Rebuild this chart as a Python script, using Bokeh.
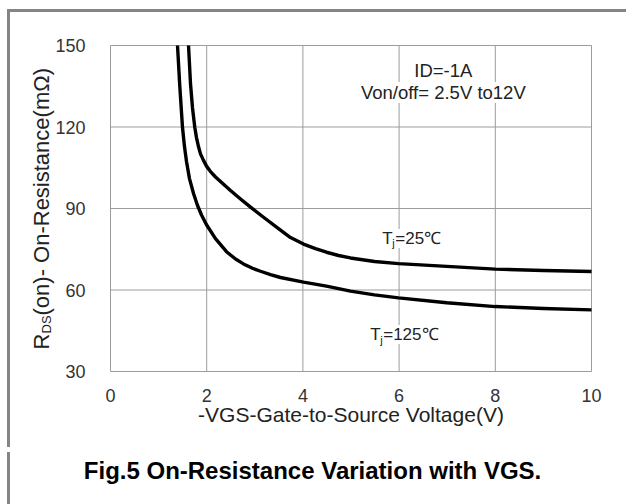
import math
from bokeh.plotting import figure
from bokeh.models import Label, FixedTicker, Range1d
from bokeh.embed import file_html
from bokeh.resources import INLINE

# ---- data ----
vgs_25 = [1.622, 1.663, 1.705, 1.753, 1.788, 1.830, 1.871, 1.933, 1.996, 2.079, 2.183,
          2.287, 2.495, 2.703, 2.911, 3.202, 3.493, 3.742, 4.012, 4.262, 4.49, 4.74,
          4.99, 5.489, 5.988, 6.99, 8.0, 9.0, 10.0]
rds_25 = [150, 136.0, 127.0, 119.8, 116.1, 112.7, 110.1, 107.7, 105.6, 103.6, 101.6,
          99.9, 96.6, 93.5, 90.5, 86.5, 82.6, 79.3, 76.9, 75.2, 73.9, 72.7,
          71.8, 70.5, 69.7, 68.7, 67.7, 67.2, 66.8]

vgs_125 = [1.393, 1.441, 1.497, 1.538, 1.580, 1.642, 1.726, 1.809, 1.892, 1.996, 2.183,
           2.412, 2.599, 2.765, 2.952, 3.119, 3.326, 3.534, 4.012, 4.49, 4.99, 5.489,
           5.988, 6.99, 8.0, 9.0, 10.0]
rds_125 = [150, 134.9, 119.8, 112.8, 107.3, 101.0, 95.5, 91.1, 87.6, 84.0, 78.9,
           74.1, 71.4, 69.6, 68.0, 66.9, 65.7, 64.6, 62.9, 61.4, 59.6, 58.2,
           57.1, 55.3, 53.9, 53.2, 52.7]

x_ticks = [0, 2, 4, 6, 8, 10]
y_ticks = [30, 60, 90, 120, 150]

FONT = "Liberation Sans"
W, H = 626, 504
# pixel placement of the plot box (x=0..10, y=30..150)
PX_L, PX_R, PX_T, PX_B = 110, 591, 45, 371
sx = (PX_R - PX_L) / (x_ticks[-1] - x_ticks[0])
sy = (PX_B - PX_T) / (y_ticks[-1] - y_ticks[0])
x_rng = Range1d(x_ticks[0] - PX_L / sx, x_ticks[-1] + (W - PX_R) / sx)
y_rng = Range1d(y_ticks[0] - (H - PX_B) / sy, y_ticks[-1] + PX_T / sy)

p = figure(width=W, height=H, x_range=x_rng, y_range=y_rng,
           output_backend="svg", toolbar_location=None, min_border=0)
p.border_fill_alpha = 0
p.background_fill_alpha = 0
p.outline_line_color = None
p.styles = {
    "background-image": "linear-gradient(#858585,#858585), linear-gradient(#858585,#858585), linear-gradient(#858585,#858585)",
    "background-size": "calc(100% - 7px) 3px, 3px 438px, 3px 60px",
    "background-position": "7px 9px, 7px 9px, 7px 452px",
    "background-repeat": "no-repeat",
}

p.xaxis.fixed_location = y_ticks[0]
p.yaxis.fixed_location = x_ticks[0]
for ax in (p.xaxis[0], p.yaxis[0]):
    ax.axis_line_color = None
    ax.major_tick_line_color = None
    ax.minor_tick_line_color = None
    ax.major_label_text_font = FONT
    ax.major_label_text_font_size = "18px"
    ax.major_label_text_color = "#333333"
p.xaxis.ticker = FixedTicker(ticks=x_ticks)
p.yaxis.ticker = FixedTicker(ticks=y_ticks)
p.xaxis.major_label_standoff = 11
p.yaxis.major_label_standoff = 19
p.grid.visible = False

# grid / plot box
GRID = "#9c9c9c"
p.segment(x0=x_ticks, y0=[y_ticks[0]] * len(x_ticks), x1=x_ticks, y1=[y_ticks[-1]] * len(x_ticks),
          line_color=GRID, line_width=1)
p.segment(x0=[x_ticks[0]] * len(y_ticks), y0=y_ticks, x1=[x_ticks[-1]] * len(y_ticks), y1=y_ticks,
          line_color=GRID, line_width=1)

p.line(vgs_25, rds_25, line_color="black", line_width=3.4, line_join="round")
p.line(vgs_125, rds_125, line_color="black", line_width=3.4, line_join="round")


def lab(text, x, y, size, **kw):
    params = dict(x=x, y=y, text=text, text_font=FONT, text_font_size=size,
                  text_color=kw.pop("color", "#222222"))
    params.update(kw)
    l = Label(**params)
    p.add_layout(l)
    return l


# annotations inside plot
lab("ID=-1A", 6.92, 140.8, "18.5px", text_align="center", text_baseline="middle",
    background_fill_color="white")
lab("Von/off= 2.5V to12V", 6.92, 132.7, "18.5px", text_align="center", text_baseline="middle",
    background_fill_color="white")


def tj(x, y, rest):
    lab("T", x, y, "17px", text_align="left", text_baseline="middle", background_fill_color="white")
    lab("j", x, y, "11px", text_align="left", text_baseline="middle", x_offset=10, y_offset=-5)
    lab(rest, x, y, "17px", text_align="left", text_baseline="middle", x_offset=13,
        background_fill_color="white")


tj(5.65, 79.0, "=25\u2103")
tj(5.40, 43.6, "=125\u2103")

# axis titles
lab("-VGS-Gate-to-Source Voltage(V)", 5.0, 14.2, "21px", text_align="center", text_baseline="middle")

ya_x, ya_y = -1.43, 38.1
ang = math.pi / 2
lab("R", ya_x, ya_y, "22px", angle=ang, text_align="left", text_baseline="middle")
lab("DS", ya_x, ya_y, "13px", angle=ang, text_align="left", text_baseline="middle",
    y_offset=16, x_offset=5)
lab("(on)- On-Resistance(m\u03a9)", ya_x, ya_y, "22px", angle=ang, text_align="left",
    text_baseline="middle", y_offset=34)

# caption
lab("Fig.5 On-Resistance Variation with VGS.", 4.20, -6.44, "24px", text_align="center",
    text_baseline="middle", text_font_style="bold", color="black")

open("out.html", "w").write(file_html(p, INLINE))
